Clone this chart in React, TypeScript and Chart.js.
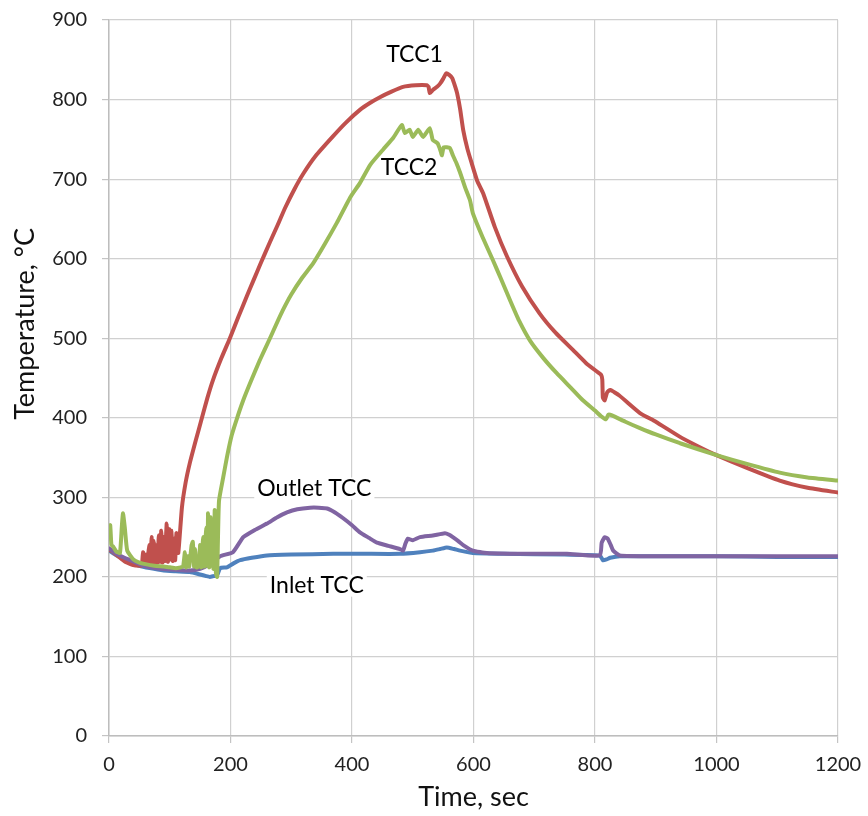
import React, { useEffect, useRef } from "react";
import { Chart, registerables } from "chart.js";

Chart.register(...registerables);

// ---- Data (time in seconds, temperature in °C) ----
const tcc1Time = [0, 5, 10, 15, 20, 25, 30, 40, 50, 54, 56, 58, 61, 63, 66, 68, 70, 72, 74, 76, 78, 80, 82, 84, 86, 88, 90, 92, 95, 97, 99, 101, 103, 105, 107, 109, 111, 114, 120, 126, 133, 143, 153, 162, 171, 185, 199, 213, 227, 238, 249, 265, 278, 290, 305, 320, 340, 369, 390, 413, 430, 446, 465, 484, 505, 523, 526, 528, 533, 540, 545, 550, 555, 560, 565, 570, 573, 578, 583, 590, 597, 606, 616, 635, 655, 680, 709, 735, 764, 785, 805, 810, 812, 813, 816, 820, 825, 840, 874, 900, 940, 970, 1000, 1050, 1104, 1150, 1200];
const tcc1Temp = [234, 232, 229, 226, 223, 220, 218, 215, 214, 214, 231, 216, 228, 215, 240, 216, 250, 218, 245, 217, 240, 218, 252, 219, 258, 218, 250, 220, 267, 219, 260, 222, 258, 220, 248, 221, 255, 230, 287, 318, 343, 372, 400, 425, 447, 475, 500, 527, 553, 573, 593, 621, 643, 664, 687, 707, 729, 754, 771, 787, 796, 803, 810, 816, 818, 818, 816, 808, 812, 816, 820, 826, 833, 831, 827, 816, 808, 788, 762, 738, 720, 698, 682, 640, 603, 565, 531, 507, 485, 469, 457, 454, 448, 425, 422, 432, 435, 428, 406, 395, 376, 364, 353, 337, 321, 312, 306];

const tcc2Time = [0, 2, 4, 7, 12, 18, 21, 23, 26, 30, 40, 50, 60, 75, 90, 100, 110, 118, 122, 125, 127, 130, 132, 136, 138, 140, 142, 144, 148, 150, 152, 155, 157, 160, 162, 163, 165, 167, 168, 170, 172, 174, 176, 178, 181, 188, 194, 202, 211, 221, 232, 248, 265, 275, 286, 300, 318, 336, 355, 375, 397, 413, 430, 451, 468, 482, 487, 495, 500, 509, 517, 528, 533, 541, 546, 548, 551, 561, 566, 572, 578, 586, 594, 599, 615, 632, 645, 660, 675, 693, 715, 737, 760, 780, 800, 810, 818, 822, 828, 850, 874, 900, 940, 1000, 1050, 1104, 1150, 1200];
const tcc2Temp = [262, 265, 240, 238, 232, 230, 262, 280, 262, 233, 222, 218, 216, 214, 213, 212, 211, 212, 213, 231, 212, 226, 213, 240, 244, 213, 235, 212, 213, 240, 212, 250, 213, 262, 214, 280, 212, 275, 214, 272, 210, 284, 205, 200, 295, 325, 350, 378, 400, 422, 443, 472, 500, 517, 535, 555, 576, 594, 618, 645, 677, 695, 718, 737, 752, 768, 758, 762, 753, 762, 753, 764, 749, 745, 735, 730, 740, 739, 730, 720, 708, 690, 674, 657, 627, 598, 575, 548, 522, 497, 475, 456, 438, 422, 409, 402, 398, 404, 403, 395, 387, 379, 368, 353, 342, 331, 325, 321];

const outletTime = [0, 5, 10, 20, 35, 50, 67, 90, 110, 133, 150, 166, 183, 204, 221, 240, 260, 277, 293, 310, 331, 345, 359, 372, 385, 400, 413, 428, 441, 460, 479, 484, 488, 492, 500, 512, 533, 553, 560, 566, 575, 583, 599, 622, 680, 754, 808, 811, 816, 821, 826, 830, 841, 900, 1000, 1100, 1200];
const outletTemp = [236, 233, 230, 226, 221, 216, 212, 210, 209, 208, 210, 216, 226, 231, 250, 259, 267, 275, 281, 285, 287, 287, 286, 281, 274, 265, 256, 249, 243, 239, 235, 233, 242, 248, 246, 250, 252, 255, 253, 250, 245, 240, 233, 230, 229, 229, 227, 243, 250, 248, 240, 233, 227, 226, 226, 226, 226];

const inletTime = [0, 10, 20, 35, 50, 67, 90, 110, 133, 150, 160, 166, 172, 178, 183, 194, 205, 216, 235, 260, 300, 369, 420, 479, 512, 533, 545, 556, 568, 578, 599, 650, 750, 808, 813, 819, 825, 841, 900, 1000, 1100, 1200];
const inletTemp = [233, 228, 224, 219, 214, 211, 208, 207, 206, 203, 201, 200, 201, 202, 211, 212, 217, 221, 224, 227, 228, 229, 229, 229, 231, 233, 235, 237, 235, 233, 230, 229, 228, 227, 221, 222, 224, 226, 226, 226, 225, 225];

const seriesNames = ["TCC1", "TCC2", "Outlet TCC", "Inlet TCC"];
const seriesColors = ["#C0504D", "#9BBB59", "#8064A2", "#4F81BD"];

// In-chart labels, positioned in data units (time, temperature)
const labelTexts = ["TCC1", "TCC2", "Outlet TCC", "Inlet TCC"];
const labelTimes = [503, 494, 338, 342];
const labelTemps = [857, 714, 311, 189];

const xTitle = "Time, sec";
const yTitle = "Temperature, °C";
// y-axis title centre, in data units of the temperature axis
const yTitleAt = 518;

const xMin = 0, xMax = 1200, xStep = 200;
const yMin = 0, yMax = 900, yStep = 100;

const FONT = 'Lato, "Open Sans", "Liberation Sans", sans-serif';

function zip(t: number[], v: number[]) {
  return t.map((x, i) => ({ x, y: v[i] }));
}

const textPlugin = {
  id: "seriesLabels",
  beforeDatasetsDraw(chart: any) {
    const { ctx, scales } = chart;
    ctx.save();
    ctx.font = `23px ${FONT}`;
    ctx.textAlign = "center";
    ctx.textBaseline = "middle";
    labelTexts.forEach((t, i) => {
      const px = scales.x.getPixelForValue(labelTimes[i]);
      const py = scales.y.getPixelForValue(labelTemps[i]);
      const w = ctx.measureText(t).width;
      ctx.fillStyle = "#ffffff";
      ctx.fillRect(px - w / 2 - 3, py - 11, w + 6, 22);
      ctx.fillStyle = "#000000";
      ctx.fillText(t, px, py);
    });
    ctx.restore();
  },
  afterDraw(chart: any) {
    const { ctx, scales } = chart;
    ctx.save();
    ctx.font = `27px ${FONT}`;
    ctx.fillStyle = "#111";
    ctx.textAlign = "center";
    ctx.textBaseline = "middle";
    const cy = scales.y.getPixelForValue(yTitleAt);
    ctx.translate(25, cy);
    ctx.rotate(-Math.PI / 2);
    ctx.fillText(yTitle, 0, 0);
    ctx.restore();
  },
};

export default function App() {
  const ref = useRef<HTMLCanvasElement | null>(null);

  useEffect(() => {
    document.body.style.margin = "0";
    const canvas = ref.current;
    if (!canvas) return;
    const data = [
      zip(tcc1Time, tcc1Temp),
      zip(tcc2Time, tcc2Temp),
      zip(outletTime, outletTemp),
      zip(inletTime, inletTemp),
    ];
    const orders = [3, 1, 2, 4];
    const chart = new Chart(canvas, {
      type: "line",
      data: {
        datasets: data.map((d, i) => ({
          label: seriesNames[i],
          data: d,
          borderColor: seriesColors[i],
          backgroundColor: seriesColors[i],
          borderWidth: 4,
          pointRadius: 0,
          tension: 0.15,
          fill: false,
          order: orders[i],
          borderJoinStyle: "round" as const,
          borderCapStyle: "round" as const,
        })),
      },
      plugins: [textPlugin],
      options: {
        animation: false,
        responsive: false,
        maintainAspectRatio: false,
        events: [],
        layout: { padding: { left: 0, top: 20, right: 30, bottom: 0 } },
        plugins: {
          legend: { display: false },
          tooltip: { enabled: false },
        },
        scales: {
          x: {
            type: "linear",
            min: xMin,
            max: xMax,
            afterFit: (s: any) => {
              s.height = 80;
              s.paddingLeft = 0;
              s.paddingRight = 0;
            },
            ticks: {
              stepSize: xStep,
              padding: 10,
              color: "#222",
              font: { family: FONT, size: 20 },
              maxRotation: 0,
              callback: (v: any) => String(v),
            },
            grid: { color: "#d0d0d0", lineWidth: 1.2, tickLength: 7, tickColor: "#c4c4c4" },
            border: { color: "#bdbdbd", width: 1.5 },
            title: {
              display: true,
              text: xTitle,
              color: "#111",
              font: { family: FONT, size: 27 },
              padding: { top: 0, bottom: 3 },
            },
          },
          y: {
            type: "linear",
            min: yMin,
            max: yMax,
            afterFit: (s: any) => {
              s.width = 109;
              s.paddingTop = 0;
              s.paddingBottom = 0;
            },
            ticks: {
              stepSize: yStep,
              padding: 15,
              color: "#222",
              font: { family: FONT, size: 20 },
            },
            grid: { color: "#d0d0d0", lineWidth: 1.2, tickLength: 7, tickColor: "#c4c4c4" },
            border: { color: "#bdbdbd", width: 1.5 },
            title: { display: false, text: yTitle },
          },
        },
      },
    });
    return () => chart.destroy();
  }, []);

  return (
    <div style={{ width: 868, height: 816, background: "#fff" }}>
      <canvas ref={ref} width={868} height={816} style={{ display: "block" }} />
    </div>
  );
}
